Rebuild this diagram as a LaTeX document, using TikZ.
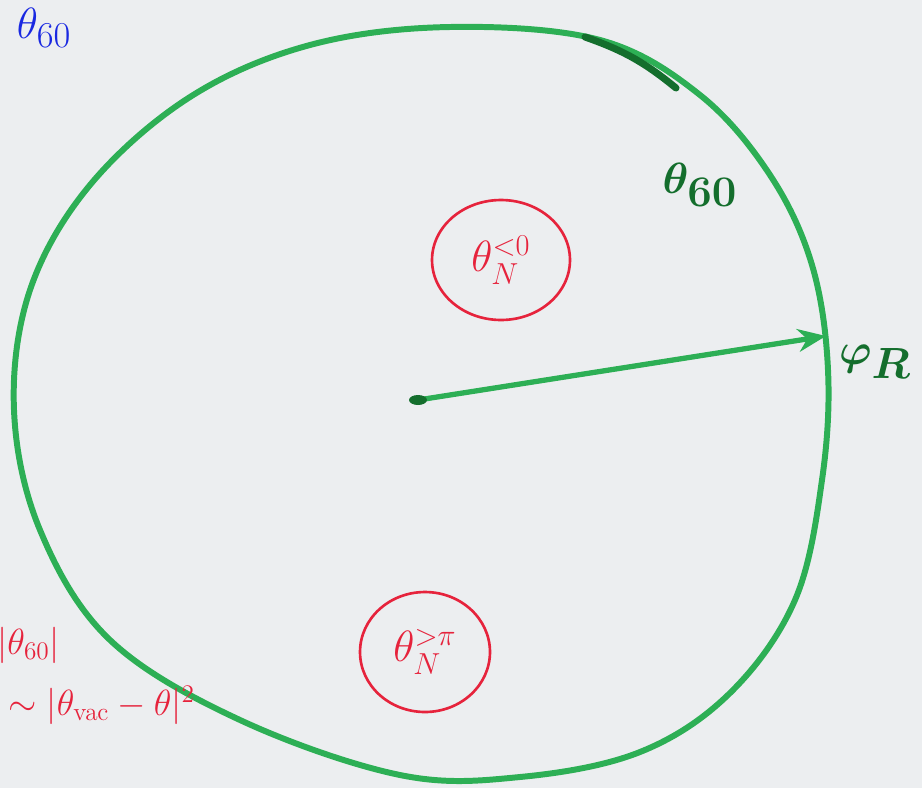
\documentclass[tikz,border=0pt]{standalone}
\usepackage{amsmath,amssymb}
\usepackage{xcolor}
\usetikzlibrary{arrows.meta,positioning,calc,shapes.geometric}
\definecolor{paper}{RGB}{236,238,240}
\definecolor{penGreen}{RGB}{45,175,85}
\definecolor{penDark}{RGB}{20,110,45}
\definecolor{penRed}{RGB}{230,35,60}
\definecolor{penBlue}{RGB}{25,40,225}

\begin{document}
\begin{tikzpicture}[x=0.02cm,y=-0.02cm,
  wall/.style={penGreen,line width=3.4pt,line cap=round,line join=round},
  vortex/.style={ellipse,draw=penRed,line width=1.5pt,text=penRed,inner sep=0pt,
    font=\fontsize{26}{30}\selectfont},
  greenlab/.style={text=penDark,font=\boldmath\fontsize{40}{48}\selectfont},
  redlab/.style={text=penRed,font=\fontsize{21}{25}\selectfont}]
\useasboundingbox[fill=paper] (0,0) rectangle (922,788);
% boundary of the region
\draw[wall] plot[smooth cycle,tension=0.6] coordinates {(450,27) (600,40) (700,95) (770,175) (812,265) (828,370) (822,480) (795,600) (730,693) (640,752) (520,777) (400,775) (240,720) (110,640) (40,530) (14,410) (30,290) (90,185) (190,97) (310,45)};
\draw[penDark,line width=4pt,line cap=round] (585,37) to[bend left=10] (676,88);
% radius arrow
\coordinate (ctr) at (418,400);
\coordinate (rim) at (826,336);
\draw[penGreen,line width=3pt,-{Stealth[length=16pt,width=13pt]}] (ctr) -- (rim);
\fill[penDark] (ctr) ellipse (9 and 5);
% vortices
\node[vortex,minimum width=2.76cm,minimum height=2.4cm] (vneg) at (501,260) {$\theta_N^{<0}$};
\node[vortex,minimum width=2.6cm,minimum height=2.4cm] (vpi) at (425,652) {$\theta_N^{>\pi}$};
% labels
\node[greenlab] (wallname) at (700,185) {$\theta_{60}$};
\node[greenlab] (phase) at (875,362) {$\varphi_R$};
\node[text=penBlue,font=\fontsize{28}{32}\selectfont] (corner) at (44,28) {$\theta_{60}$};
\node[redlab,anchor=east] (absval) at (66,645) {$|\theta_{60}|$};
\node[redlab,anchor=west] (approx) at (2,705) {$\sim|\theta_{\mathrm{vac}}-\theta|^2$};
\end{tikzpicture}
\end{document}
